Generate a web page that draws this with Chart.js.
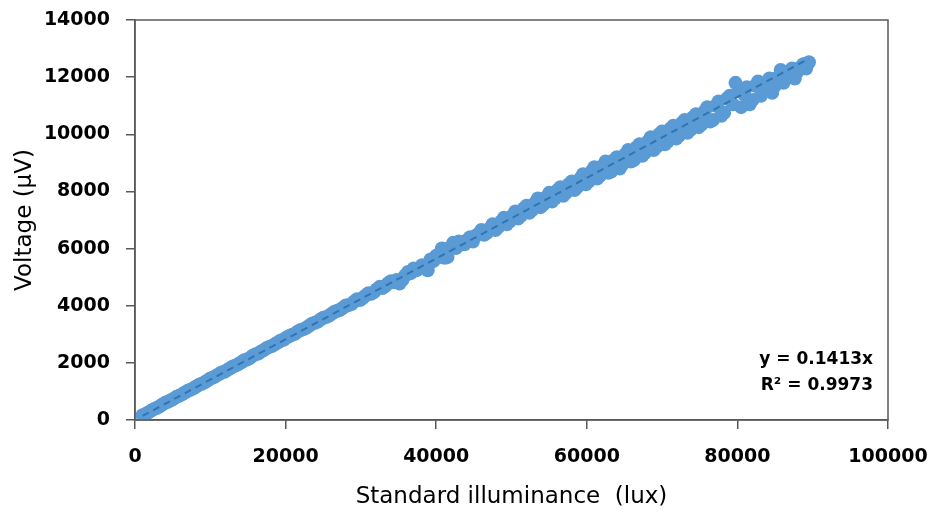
<!DOCTYPE html>
<html>
<head>
<meta charset="utf-8">
<script src="https://cdn.jsdelivr.net/npm/chart.js@4.4.1/dist/chart.umd.min.js"></script>
<style>
  html, body { margin: 0; padding: 0; background: #fff; }
  #wrap { width: 936px; height: 516px; }
</style>
</head>
<body>
<div id="wrap"><canvas id="myChart" width="936" height="516"></canvas></div>
<script>
// illuminance (lux) of each measurement, first run
let luxValues = [
  1000, 1750, 2500, 3250, 4000, 4750, 5500, 6250, 7000, 7750,
  8500, 9250, 10000, 10750, 11500, 12250, 13000, 13750, 14500, 15250,
  16000, 16750, 17500, 18250, 19000, 19750, 20500, 21250, 22000, 22750,
  23500, 24250, 25000, 25750, 26500, 27250, 28000, 28750, 29500, 30250,
  31000, 31750, 32500, 33250, 34000, 34750, 35500, 36250, 37000, 37750,
  38500, 39250, 40000, 40750, 41500, 42250, 43000, 43750, 44500, 45250,
  46000, 46750, 47500, 48250, 49000, 49750, 50500, 51250, 52000, 52750,
  53500, 54250, 55000, 55750, 56500, 57250, 58000, 58750, 59500, 60250,
  61000, 61750, 62500, 63250, 64000, 64750, 65500, 66250, 67000, 67750,
  68500, 69250, 70000, 70750, 71500, 72250, 73000, 73750, 74500, 75250,
  76000, 76750, 77500, 78250, 79000, 79750, 80500, 81250, 82000, 82750,
  83500, 84250, 85000, 85750, 86500, 87250, 88000, 88750, 89500
];

// voltage (uV), first run
let voltValues = [
  170, 265, 380, 470, 600, 690, 810, 900, 1020, 1110,
  1230, 1320, 1450, 1540, 1660, 1750, 1870, 1960, 2090, 2170,
  2300, 2400, 2520, 2600, 2720, 2810, 2940, 3020, 3150, 3230,
  3370, 3440, 3580, 3650, 3790, 3860, 4010, 4060, 4230, 4270,
  4440, 4480, 4660, 4690, 4860, 4900, 4900, 5180, 5300, 5310,
  5330, 5620, 5750, 6000, 5700, 6200, 6250, 6150, 6400, 6450,
  6650, 6550, 6850, 6750, 7080, 6950, 7300, 7150, 7500, 7350,
  7750, 7550, 7950, 7750, 8150, 7950, 8350, 8150, 8600, 8350,
  8850, 8550, 9050, 8700, 9200, 8950, 9450, 9100, 9650, 9350,
  9900, 9550, 10100, 9750, 10300, 9950, 10500, 10150, 10700, 10350,
  10950, 10500, 11150, 10750, 11350, 11800, 10950, 11650, 11200, 11850,
  11500, 11950, 11700, 12250, 11950, 12300, 12200, 12450, 12520
];

// second run, in between the first
let luxValues2 = [
  1375, 2125, 2875, 3625, 4375, 5125, 5875, 6625, 7375, 8125,
  8875, 9625, 10375, 11125, 11875, 12625, 13375, 14125, 14875, 15625,
  16375, 17125, 17875, 18625, 19375, 20125, 20875, 21625, 22375, 23125,
  23875, 24625, 25375, 26125, 26875, 27625, 28375, 29125, 29875, 30625,
  31375, 32125, 32875, 33625, 34375, 35125, 35875, 36625, 37375, 38125,
  38875, 39625, 40375, 41125, 41875, 42625, 43375, 44125, 44875, 45625,
  46375, 47125, 47875, 48625, 49375, 50125, 50875, 51625, 52375, 53125,
  53875, 54625, 55375, 56125, 56875, 57625, 58375, 59125, 59875, 60625,
  61375, 62125, 62875, 63625, 64375, 65125, 65875, 66625, 67375, 68125,
  68875, 69625, 70375, 71125, 71875, 72625, 73375, 74125, 74875, 75625,
  76375, 77125, 77875, 78625, 79375, 80125, 80875, 81625, 82375, 83125,
  83875, 84625, 85375, 86125, 86875, 87625, 88375, 89125
];

let voltValues2 = [
  200, 320, 420, 540, 640, 740, 850, 960, 1060, 1170,
  1270, 1380, 1490, 1600, 1690, 1810, 1910, 2020, 2120, 2250,
  2330, 2450, 2560, 2660, 2780, 2890, 2980, 3100, 3180, 3300,
  3400, 3520, 3600, 3720, 3820, 3930, 4020, 4150, 4200, 4360,
  4420, 4580, 4620, 4790, 4820, 4780, 5060, 5140, 5240, 5420,
  5240, 5560, 5700, 5680, 6050, 6020, 6150, 6300, 6250, 6520,
  6480, 6700, 6650, 6950, 6850, 7150, 7050, 7400, 7250, 7600,
  7450, 7800, 7650, 8050, 7850, 8250, 8050, 8450, 8250, 8700,
  8450, 8900, 8650, 9100, 8800, 9300, 9050, 9550, 9250, 9750,
  9450, 10000, 9650, 10200, 9850, 10400, 10050, 10600, 10250, 10800,
  10450, 11000, 10650, 11250, 11050, 11550, 11400, 11050, 11700, 11350,
  11750, 11450, 12000, 11800, 12200, 11950, 12350, 12300
];

// trend line y = 0.1413x, ends
let trendX = [1000, 89500];
let trendY = [141, 12646];

let xTicks = [0, 20000, 40000, 60000, 80000, 100000];
let yTicks = [0, 2000, 4000, 6000, 8000, 10000, 12000, 14000];

let points = luxValues.map((x, i) => ({ x: x, y: voltValues[i] }))
  .concat(luxValues2.map((x, i) => ({ x: x, y: voltValues2[i] })));
let trend = trendX.map((x, i) => ({ x: x, y: trendY[i] }));

// box round the plot area and the equation text
const frame = {
  id: 'frame',
  afterDraw(chart) {
    const ctx = chart.ctx;
    const a = chart.chartArea;
    ctx.save();
    ctx.strokeStyle = '#595959';
    ctx.lineWidth = 1.5;
    ctx.strokeRect(a.left, a.top, a.right - a.left, a.bottom - a.top);
    ctx.fillStyle = '#000';
    ctx.font = 'bold 17px "DejaVu Sans"';
    ctx.textAlign = 'right';
    ctx.textBaseline = 'middle';
    ctx.fillText('y = 0.1413x', 873, 360);
    ctx.fillText('R\u00B2 = 0.9973', 873, 386);
    ctx.restore();
  }
};

const config = {
  type: 'scatter',
  data: {
    datasets: [
      {
        type: 'line',
        data: trend,
        borderColor: '#2E75B6',
        borderWidth: 2,
        borderDash: [7, 5],
        pointRadius: 0,
        fill: false,
        order: 0
      },
      {
        data: points,
        backgroundColor: '#5B9BD5',
        borderWidth: 0,
        pointRadius: 7,
        order: 1
      }
    ]
  },
  options: {
    responsive: false,
    animation: false,
    layout: { padding: { top: 20, right: 48, left: 0, bottom: 0 } },
    plugins: { legend: { display: false }, tooltip: { enabled: false } },
    scales: {
      x: {
        type: 'linear',
        min: 0,
        max: 100000,
        afterFit(scale) {
          scale.height = 96;
          scale.paddingLeft = 0;
          scale.paddingRight = 0;
        },
        afterBuildTicks(scale) { scale.ticks = xTicks.map(v => ({ value: v })); },
        grid: { drawOnChartArea: false, drawTicks: true, tickLength: 9, color: '#595959', lineWidth: 1.5 },
        border: { color: '#595959', width: 1.5 },
        ticks: {
          color: '#000',
          padding: 17,
          maxRotation: 0,
          font: { family: 'DejaVu Sans', size: 19, weight: 'bold' },
          callback: v => String(v)
        },
        title: {
          display: true,
          text: 'Standard illuminance  (lux)',
          color: '#000',
          font: { family: 'DejaVu Sans', size: 23 },
          padding: { top: 4, bottom: 5 }
        }
      },
      y: {
        type: 'linear',
        min: 0,
        max: 14000,
        afterFit(scale) {
          scale.width = 135;
          scale.paddingTop = 0;
          scale.paddingBottom = 0;
        },
        afterBuildTicks(scale) { scale.ticks = yTicks.map(v => ({ value: v })); },
        grid: { drawOnChartArea: false, drawTicks: true, tickLength: 9, color: '#595959', lineWidth: 1.5 },
        border: { color: '#595959', width: 1.5 },
        ticks: {
          color: '#000',
          padding: 16,
          font: { family: 'DejaVu Sans', size: 19, weight: 'bold' },
          callback: v => String(v)
        },
        title: {
          display: true,
          text: 'Voltage (\u00B5V)',
          color: '#000',
          font: { family: 'DejaVu Sans', size: 23 },
          padding: { top: 11, bottom: 0 }
        }
      }
    }
  },
  plugins: [frame]
};

const myChart = new Chart(document.getElementById('myChart'), config);
</script>
</body>
</html>
